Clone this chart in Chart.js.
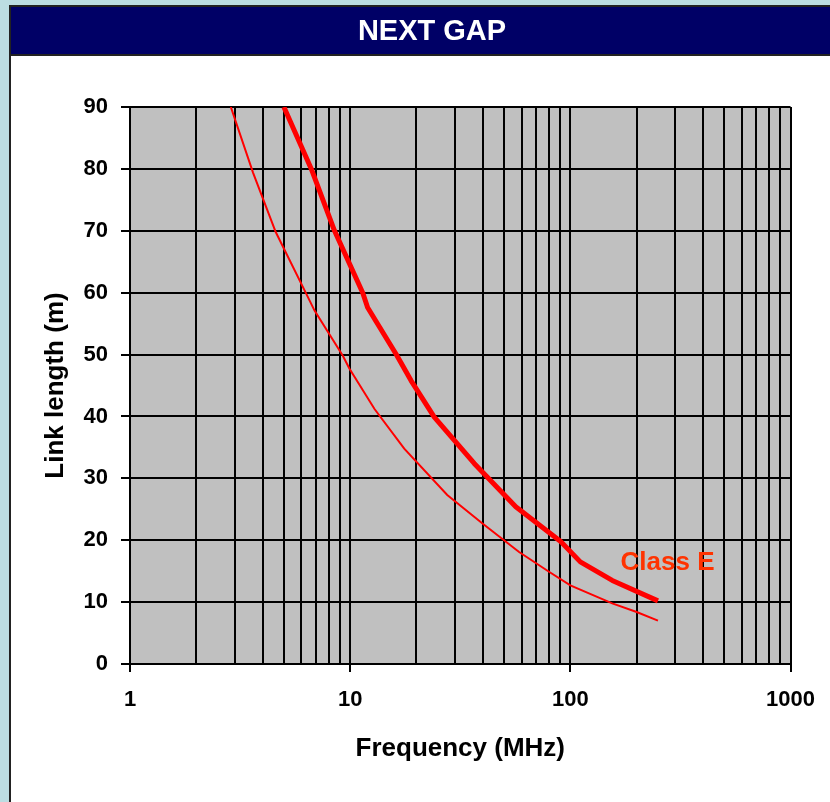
<!DOCTYPE html>
<html>
<head>
<meta charset="utf-8">
<script src="https://cdn.jsdelivr.net/npm/chart.js@4.4.1/dist/chart.umd.min.js"></script>
<style>
  html, body { margin: 0; padding: 0; background: #bcdde2; }
  #wrap { width: 830px; height: 802px; }
</style>
</head>
<body>
<div id="wrap"><canvas id="nextChart" width="830" height="802"></canvas></div>
<script>
// Class E curve (thick line)
const classEFreq = [5, 6.66, 8.49, 11.4, 12.0, 16.2, 18.9, 24.1, 36.6, 56.5, 90.4, 111, 155, 250];
const classELength = [90, 80, 70, 60, 57.6, 50, 45.8, 39.9, 32.4, 25.4, 19.8, 16.5, 13.5, 10.2];

// second curve (thin line)
const thinFreq = [2.87, 3.62, 4.59, 6.32, 6.89, 9.26, 9.93, 12.9, 17.6, 27.6, 39.9, 58.5, 80, 100, 155, 200, 250];
const thinLength = [90, 79.4, 69.8, 59.8, 57.1, 49.8, 47.7, 41.2, 34.8, 27.3, 22.7, 18.1, 14.9, 12.7, 9.8, 8.4, 7.0];

// axis ticks
const freqGrid = [1, 2, 3, 4, 5, 6, 7, 8, 9, 10, 20, 30, 40, 50, 60, 70, 80, 90,
                  100, 200, 300, 400, 500, 600, 700, 800, 900, 1000];
const freqLabels = [1, 10, 100, 1000];
const lengthTicks = [0, 10, 20, 30, 40, 50, 60, 70, 80, 90];

const chartTitle = 'NEXT GAP';
const curveLabel = 'Class E';
const curveLabelAt = [169, 16.4];

const FONT = '"Liberation Sans", Arial, sans-serif';

// background, panel, title bar and grey plot area
const framePlugin = {
    id: 'frame',
    beforeDraw(chart) {
        const c = chart.ctx;
        const a = chart.chartArea;
        c.save();
        c.fillStyle = '#bcdde2';
        c.fillRect(0, 0, 830, 802);
        c.fillStyle = '#ffffff';
        c.fillRect(10, 6, 830, 800);
        c.strokeStyle = '#222';
        c.lineWidth = 2;
        c.strokeRect(10, 6, 840, 810);
        c.fillStyle = '#000066';
        c.fillRect(11, 7, 830, 47);
        c.fillStyle = '#222';
        c.fillRect(11, 54, 830, 2);
        c.fillStyle = '#ffffff';
        c.font = 'bold 29px ' + FONT;
        c.textAlign = 'center';
        c.textBaseline = 'middle';
        c.fillText(chartTitle, 432, 32);
        c.fillStyle = '#c0c0c0';
        c.fillRect(a.left, a.top, a.right - a.left, a.bottom - a.top);
        c.restore();
    },
    afterDatasetsDraw(chart) {
        const c = chart.ctx;
        const x = chart.scales.x.getPixelForValue(curveLabelAt[0]);
        const y = chart.scales.y.getPixelForValue(curveLabelAt[1]);
        c.save();
        c.fillStyle = '#ff3300';
        c.font = 'bold 26px ' + FONT;
        c.textAlign = 'left';
        c.textBaseline = 'middle';
        c.fillText(curveLabel, x, y);
        c.restore();
    }
};

const ctx = document.getElementById('nextChart').getContext('2d');

new Chart(ctx, {
    type: 'scatter',
    data: {
        datasets: [{
            label: curveLabel,
            data: classEFreq.map((f, i) => ({ x: f, y: classELength[i] })),
            showLine: true,
            borderColor: '#ff0000',
            borderWidth: 5,
            borderJoinStyle: 'round',
            pointRadius: 0
        }, {
            label: 'thin',
            data: thinFreq.map((f, i) => ({ x: f, y: thinLength[i] })),
            showLine: true,
            borderColor: '#ff0000',
            borderWidth: 2,
            pointRadius: 0
        }]
    },
    options: {
        responsive: false,
        animation: false,
        layout: { padding: { left: 10, top: 107, right: 38, bottom: 0 } },
        plugins: {
            legend: { display: false },
            tooltip: { enabled: false }
        },
        scales: {
            x: {
                type: 'logarithmic',
                min: 1,
                max: 1000,
                afterBuildTicks: (scale) => {
                    scale.ticks = freqGrid.map(v => ({ value: v }));
                },
                afterFit: (scale) => { scale.height = 138; },
                grid: {
                    color: '#000',
                    lineWidth: 2,
                    tickLength: 8,
                    tickColor: (c) => (c.tick && freqLabels.includes(c.tick.value)) ? '#000' : 'rgba(0,0,0,0)'
                },
                border: { color: '#000', width: 2 },
                ticks: {
                    autoSkip: false,
                    maxRotation: 0,
                    padding: 15,
                    color: '#000',
                    font: { family: FONT, size: 22, weight: 'bold' },
                    callback: (v) => freqLabels.includes(v) ? String(v) : ''
                },
                title: {
                    display: true,
                    text: 'Frequency (MHz)',
                    color: '#000',
                    font: { family: FONT, size: 26, weight: 'bold' },
                    padding: { top: 0, bottom: 38 }
                }
            },
            y: {
                min: 0,
                max: 90,
                afterBuildTicks: (scale) => {
                    scale.ticks = lengthTicks.map(v => ({ value: v }));
                },
                afterFit: (scale) => { scale.width = 120; },
                grid: { color: '#000', lineWidth: 2, tickLength: 9, tickColor: '#000' },
                border: { color: '#000', width: 2 },
                ticks: {
                    padding: 13,
                    color: '#000',
                    font: { family: FONT, size: 22, weight: 'bold' }
                },
                title: {
                    display: true,
                    text: 'Link length (m)',
                    color: '#000',
                    font: { family: FONT, size: 26, weight: 'bold' },
                    padding: { top: 30, bottom: 0 }
                }
            }
        }
    },
    plugins: [framePlugin]
});
</script>
</body>
</html>
